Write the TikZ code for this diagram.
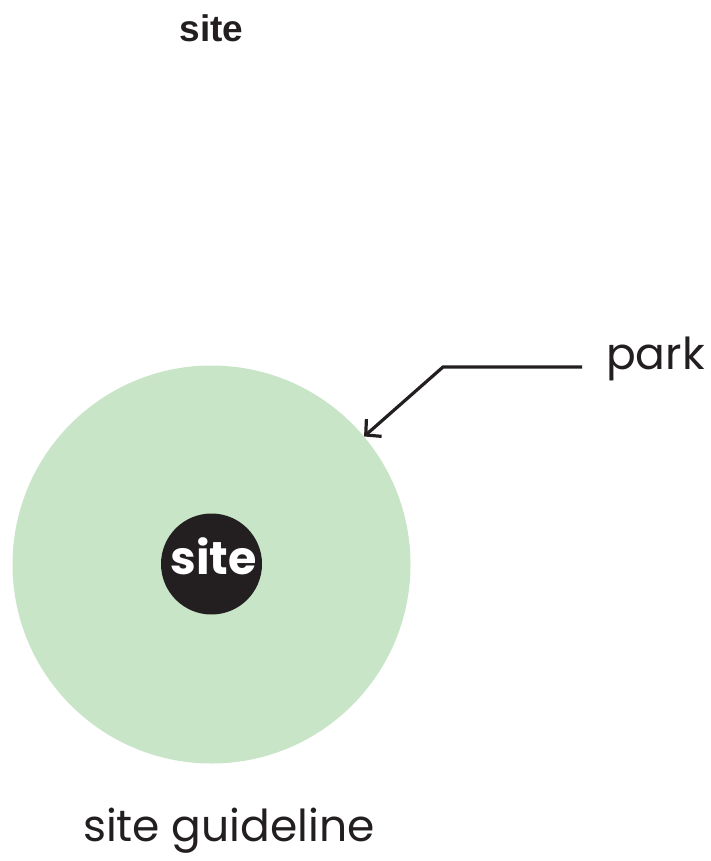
\documentclass[tikz,border=0pt]{standalone}
\usepackage{fontspec}
\setmainfont{Poppins}
\newfontfamily\arialfont{Liberation Sans}
\usetikzlibrary{arrows.meta}
\definecolor{parkgreen}{HTML}{C9E5C7}
\definecolor{siteblack}{HTML}{231F20}
\tikzset{
  lbl/.style={inner sep=0pt, text=siteblack},
  pointer/.style={draw=siteblack, line width=3.2pt, -{Straight Barb[length=11pt,width=23pt,line width=3.2pt]}}
}
\begin{document}
\begin{tikzpicture}[x=1pt,y=-1pt]
\useasboundingbox (0,0) rectangle (710,861);
\node[lbl, anchor=base, font=\arialfont\bfseries\fontsize{37}{40}\selectfont] (title) at (211.5,42) {site};
\node[circle, fill=parkgreen, minimum size=398pt, inner sep=0pt] (park) at (211.5,564.5) {};
\node[circle, fill=siteblack, minimum size=101pt, inner sep=0pt] (site) at (211.5,564) {};
\node[inner sep=0pt, anchor=base, text=white, font=\bfseries\fontsize{46}{50}\selectfont] (sitelbl) at (213.5,574) {site};
\node[lbl, anchor=base west, font=\fontsize{44}{48}\selectfont] (parklbl) at (606,369) {park};
\coordinate (bend) at (443,367);
\coordinate (start) at (582,367);
\draw[pointer] (start) -- (bend) -- (park.40);
\node[lbl, anchor=base, font=\fontsize{44}{48}\selectfont] (caption) at (229,841) {site guideline};
\end{tikzpicture}
\end{document}
